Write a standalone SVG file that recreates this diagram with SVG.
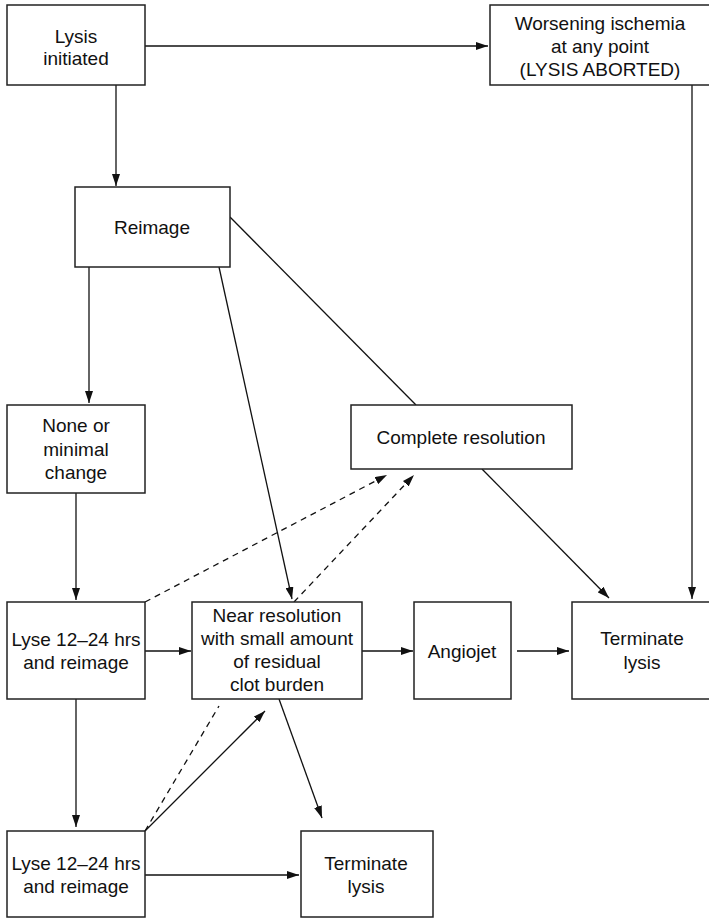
<svg xmlns="http://www.w3.org/2000/svg" width="709" height="918" viewBox="0 0 709 918">
<style>
.box{fill:#fff;stroke:#222;stroke-width:1.5}
.t{font-family:"Liberation Sans",Arial,sans-serif;font-size:19px;fill:#111;text-anchor:middle}
.c{fill:none;stroke:#111;stroke-width:1.3}
.d{fill:none;stroke:#111;stroke-width:1.3;stroke-dasharray:6,5}
</style>
<defs>
<marker id="ah" viewBox="0 0 12 8" refX="12" refY="4" markerWidth="12" markerHeight="8" markerUnits="userSpaceOnUse" orient="auto">
<path d="M0,0 L12,4 L0,8 z" fill="#111"/>
</marker>
</defs>
<rect width="709" height="918" fill="#fff"/>
<g id="connectors">
<line class="c" x1="145" y1="46" x2="488" y2="46" marker-end="url(#ah)"/>
<line class="c" x1="116" y1="85" x2="116" y2="186" marker-end="url(#ah)"/>
<line class="c" x1="692" y1="85" x2="692" y2="599" marker-end="url(#ah)"/>
<line class="c" x1="89" y1="267" x2="89" y2="403" marker-end="url(#ah)"/>
<line class="c" x1="219" y1="267" x2="292" y2="599" marker-end="url(#ah)"/>
<line class="c" x1="230" y1="217" x2="416" y2="405"/>
<line class="c" x1="76" y1="493" x2="76" y2="600" marker-end="url(#ah)"/>
<line class="d" x1="145" y1="602" x2="387" y2="475" marker-end="url(#ah)"/>
<line class="d" x1="294" y1="602" x2="414" y2="475" marker-end="url(#ah)"/>
<line class="c" x1="482" y1="469" x2="609" y2="598" marker-end="url(#ah)"/>
<line class="c" x1="145" y1="651" x2="191" y2="651" marker-end="url(#ah)"/>
<line class="c" x1="362" y1="651" x2="413" y2="651" marker-end="url(#ah)"/>
<line class="c" x1="517" y1="651" x2="569" y2="651" marker-end="url(#ah)"/>
<line class="c" x1="76" y1="699" x2="76" y2="827" marker-end="url(#ah)"/>
<line class="d" x1="145" y1="831" x2="219" y2="706"/>
<line class="c" x1="145" y1="831" x2="265" y2="711" marker-end="url(#ah)"/>
<line class="c" x1="279" y1="699" x2="322" y2="818" marker-end="url(#ah)"/>
<line class="c" x1="145" y1="875" x2="299" y2="875" marker-end="url(#ah)"/>
</g>
<g id="lysis-initiated">
<rect class="box" x="7" y="5" width="138" height="80"/>
<text class="t" x="76" y="43">Lysis</text>
<text class="t" x="76" y="65">initiated</text>
</g>
<g id="worsening">
<rect class="box" x="490" y="5" width="225" height="80"/>
<text class="t" x="600" y="30">Worsening ischemia</text>
<text class="t" x="600" y="53">at any point</text>
<text class="t" x="600" y="76">(LYSIS ABORTED)</text>
</g>
<g id="reimage">
<rect class="box" x="75" y="187" width="155" height="80"/>
<text class="t" x="152" y="234">Reimage</text>
</g>
<g id="none-minimal">
<rect class="box" x="7" y="405" width="138" height="88"/>
<text class="t" x="76" y="432">None or</text>
<text class="t" x="76" y="456">minimal</text>
<text class="t" x="76" y="479">change</text>
</g>
<g id="complete-resolution">
<rect class="box" x="351" y="405" width="221" height="64"/>
<text class="t" x="461" y="444">Complete resolution</text>
</g>
<g id="lyse1">
<rect class="box" x="7" y="602" width="138" height="97"/>
<text class="t" x="76" y="646">Lyse 12–24 hrs</text>
<text class="t" x="76" y="669">and reimage</text>
</g>
<g id="near-resolution">
<rect class="box" x="192" y="602" width="170" height="97"/>
<text class="t" x="277" y="622">Near resolution</text>
<text class="t" x="277" y="645">with small amount</text>
<text class="t" x="277" y="668">of residual</text>
<text class="t" x="277" y="691">clot burden</text>
</g>
<g id="angiojet">
<rect class="box" x="414" y="602" width="97" height="97"/>
<text class="t" x="462" y="658">Angiojet</text>
</g>
<g id="terminate1">
<rect class="box" x="572" y="602" width="145" height="97"/>
<text class="t" x="642" y="645">Terminate</text>
<text class="t" x="642" y="669">lysis</text>
</g>
<g id="lyse2">
<rect class="box" x="7" y="831" width="138" height="86"/>
<text class="t" x="76" y="870">Lyse 12–24 hrs</text>
<text class="t" x="76" y="893">and reimage</text>
</g>
<g id="terminate2">
<rect class="box" x="301" y="831" width="132" height="86"/>
<text class="t" x="366" y="870">Terminate</text>
<text class="t" x="366" y="893">lysis</text>
</g>
</svg>
